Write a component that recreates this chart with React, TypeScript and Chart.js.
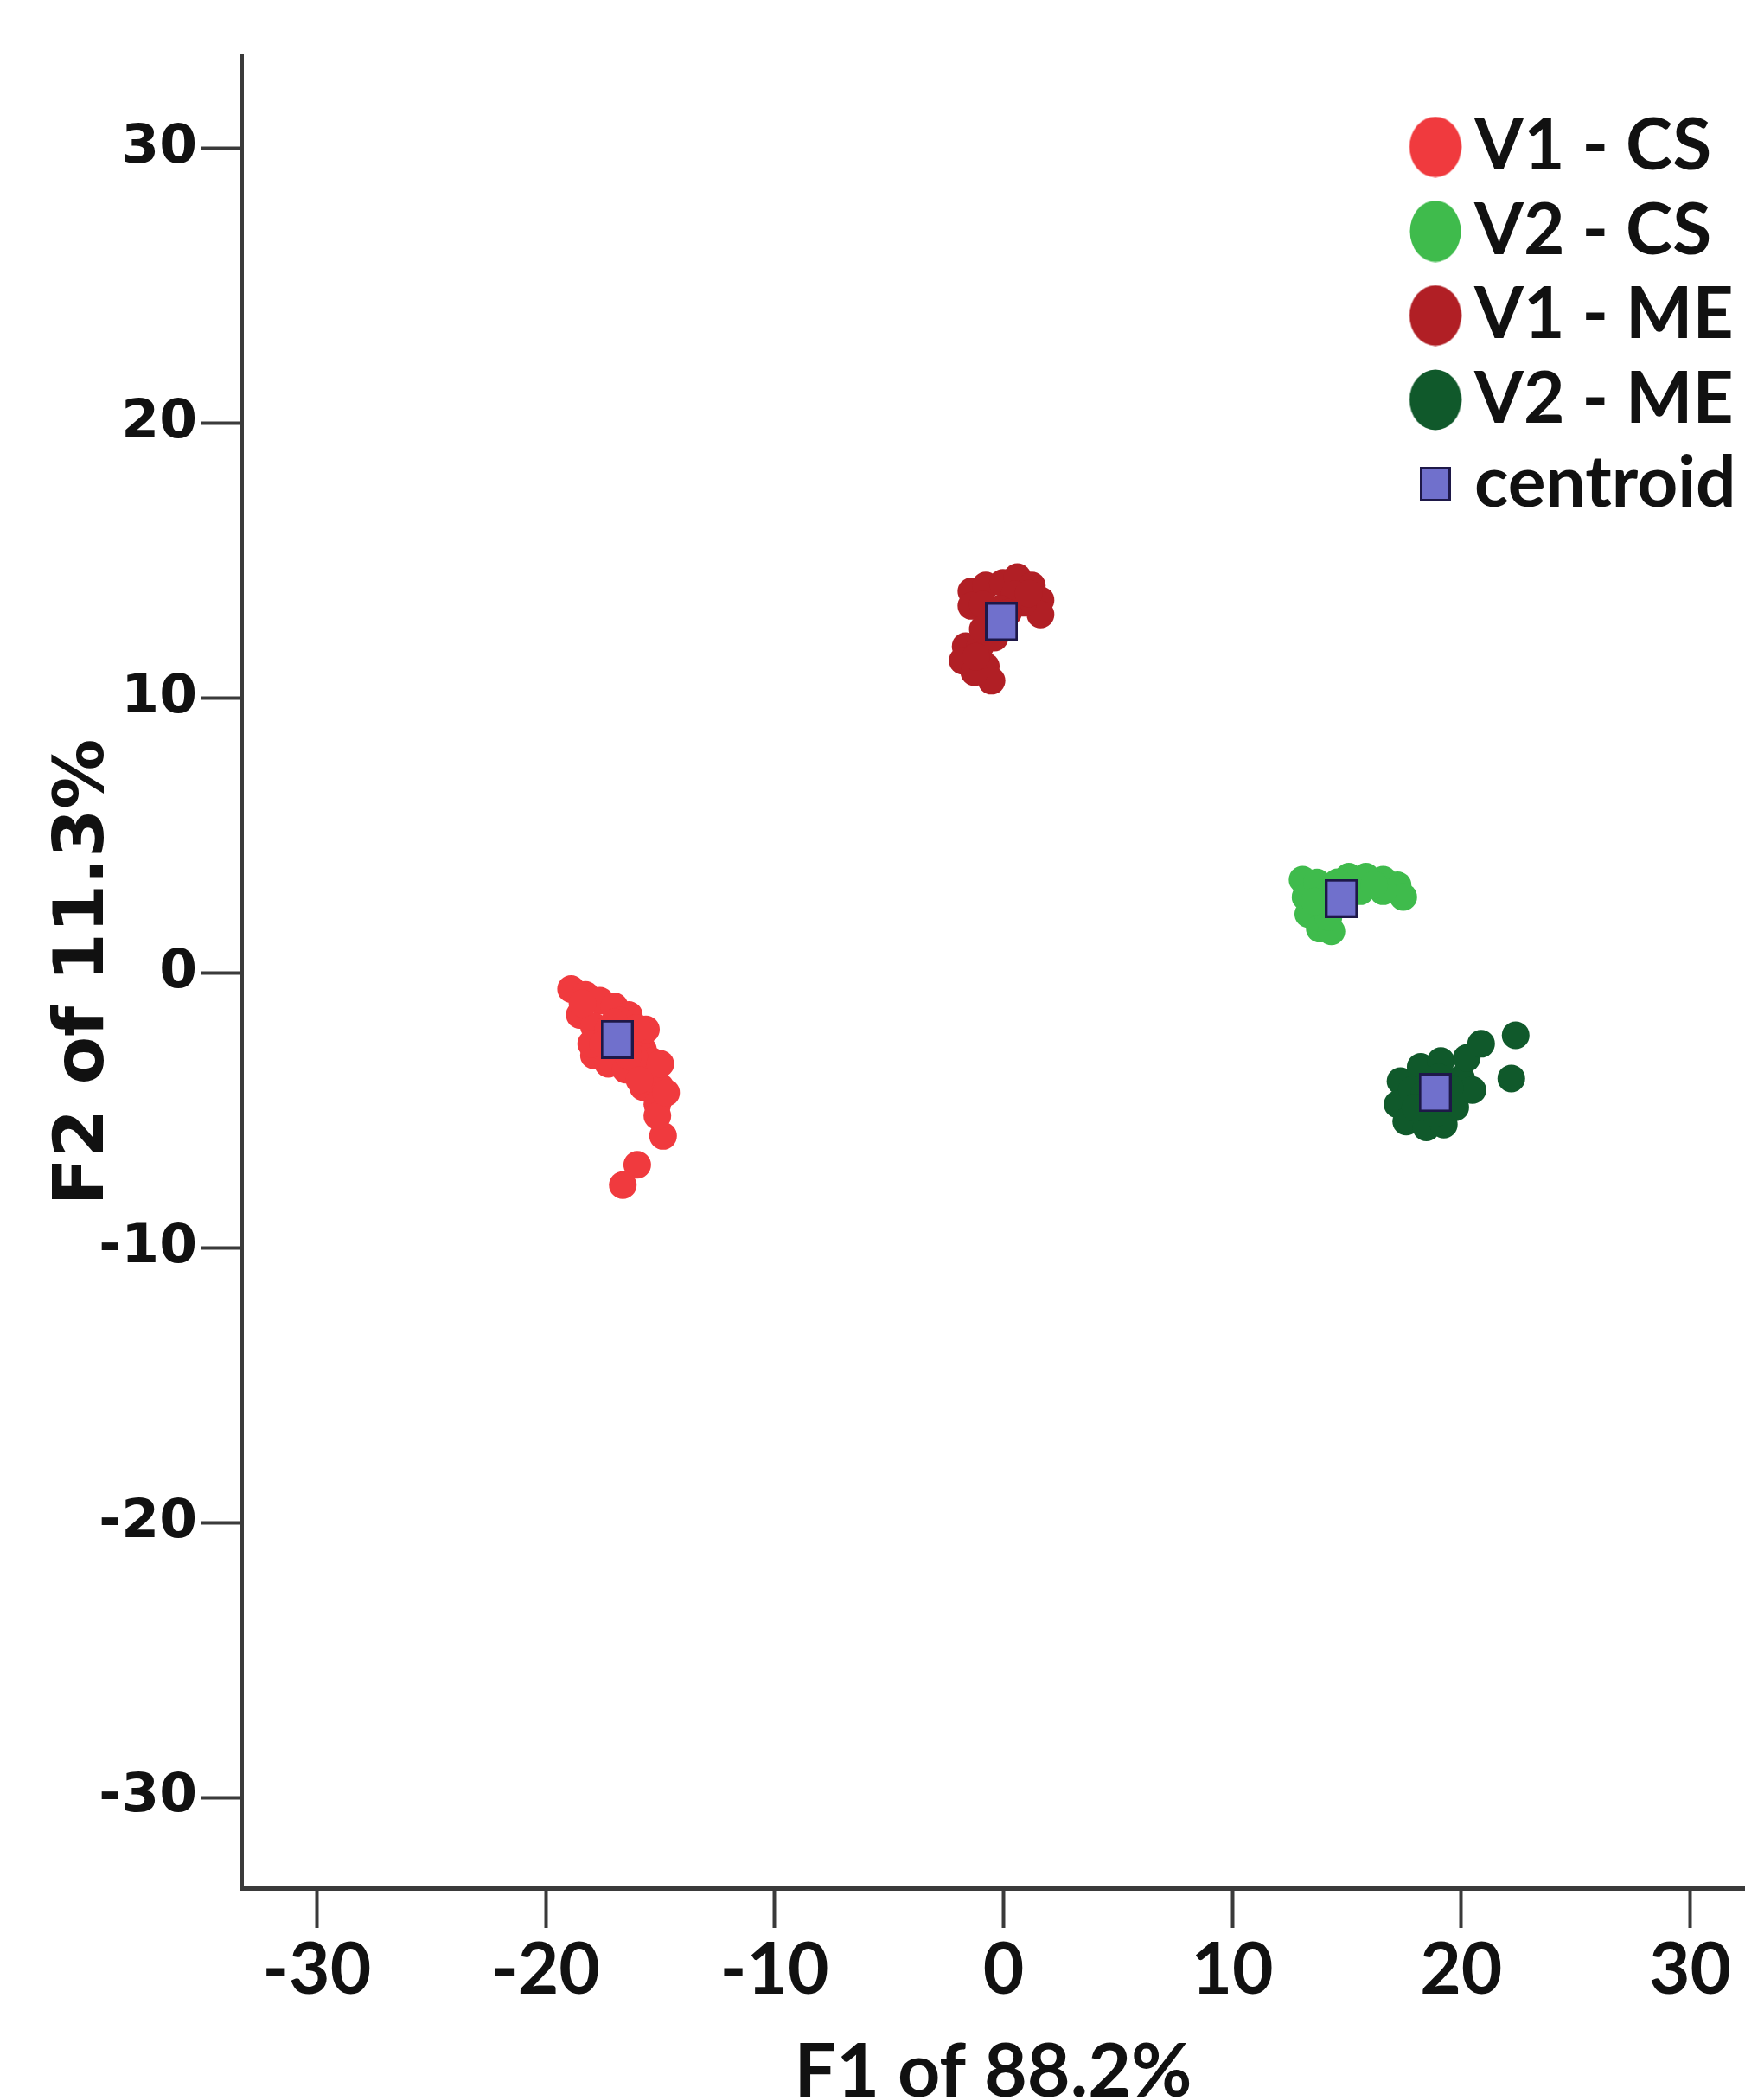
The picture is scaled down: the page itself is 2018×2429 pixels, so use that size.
import React, { useEffect, useRef } from 'react';
import { Chart, registerables } from 'chart.js';

Chart.register(...registerables);

// ---------- data ----------
const seriesNames = ['V1 - CS', 'V2 - CS', 'V1 - ME', 'V2 - ME', 'centroid'];

const v1csX = [-18.89, -18.26, -17.63, -17.0, -16.37, -18.51, -17.89, -17.89, -17.26, -16.5, -15.75, -15.49, -16.0, -14.99, -15.75, -15.12, -14.87, -16.0, -16.63, -17.26, -18.39, -16.75, -18.01, -15.37, -16.12, -15.12, -15.62, -14.99, -14.74, -17.5, -16.4, -15.9, -17.0, -16.0];
const v1csY = [-0.59, -0.8, -1.01, -1.22, -1.53, -1.53, -1.95, -3.0, -3.31, -3.52, -2.79, -3.63, -2.37, -4.15, -4.15, -4.78, -5.93, -6.98, -7.72, -2.06, -1.11, -1.74, -2.58, -3.21, -3.1, -5.2, -2.06, -3.31, -4.36, -2.6, -3.0, -3.9, -1.8, -2.0];

const v2csX = [13.07, 13.2, 13.32, 13.82, 14.33, 14.2, 15.09, 15.84, 16.59, 17.22, 17.47, 15.59, 13.7, 16.59, 13.6, 14.6, 16.2];
const v2csY = [3.39, 2.76, 2.14, 1.61, 1.51, 2.03, 3.5, 3.5, 3.39, 3.19, 2.76, 2.97, 3.29, 2.97, 2.6, 3.3, 3.2];

const v1meX = [-1.4, -0.77, -0.02, 0.61, 1.24, 1.62, 1.62, 0.86, 0.49, -1.4, -0.14, -1.65, -1.78, -1.02, -0.77, -0.52, -1.27, -0.39, 0.2, 1.1, -0.9, -1.2, -0.9];
const v1meY = [13.88, 14.09, 14.19, 14.4, 14.09, 13.56, 13.04, 13.46, 13.77, 13.35, 13.25, 11.88, 11.36, 11.88, 11.15, 10.63, 10.94, 12.2, 13.1, 13.8, 13.4, 11.5, 12.5];

const v2meX = [17.35, 17.22, 17.6, 18.48, 19.24, 19.74, 18.23, 19.11, 20.0, 20.24, 20.87, 22.38, 22.19, 17.85, 20.49, 18.86, 18.4, 19.5, 18.0, 19.0];
const v2meY = [-3.94, -4.78, -5.41, -5.62, -5.52, -4.89, -3.42, -3.21, -3.84, -3.1, -2.58, -2.27, -3.84, -4.26, -4.26, -5.1, -4.4, -4.2, -4.9, -3.8];

const centroidX = [-16.88, 14.77, -0.08, 18.86];
const centroidY = [-2.42, 2.71, 12.78, -4.36];

const xTicks = [-30, -20, -10, 0, 10, 20, 30];
const yTicks = [-30, -20, -10, 0, 10, 20, 30];

const xTitle = 'F1 of 88.2%';
const yTitle = 'F2 of 11.3%';

// ---------- styles ----------
const seriesColors = ['#f03a3e', '#3fbb4c', '#b11f25', '#10592b'];
const centroidFill = '#7070cc';
const centroidBorder = '#1e1848';
const AXIS = '#3a3a3a';
const TEXT = '#111111';
const NARROW = "Lato, 'Liberation Sans', sans-serif";
const WIDE = "'DejaVu Sans', sans-serif";

const W = 2018;
const H = 2429;
const MARKER_SHIFT = 31;

function zip(xs: number[], ys: number[]) {
  return xs.map((x, i) => ({ x, y: ys[i] }));
}

// legend markers are drawn shifted to the right inside a wider transparent canvas
function makeEllipse(color: string, w: number, h: number) {
  const c = document.createElement('canvas');
  c.width = w + 2 * MARKER_SHIFT;
  c.height = h;
  const ctx = c.getContext('2d')!;
  ctx.fillStyle = color;
  ctx.beginPath();
  ctx.ellipse(c.width / 2 + MARKER_SHIFT, h / 2, w / 2 - 0.5, h / 2 - 0.5, 0, 0, Math.PI * 2);
  ctx.fill();
  return c;
}

function makeSquare(w: number, h: number, bw: number, shift: number) {
  const c = document.createElement('canvas');
  c.width = w + 2 * shift;
  c.height = h;
  const ctx = c.getContext('2d')!;
  const x0 = c.width / 2 + shift - w / 2;
  ctx.fillStyle = centroidBorder;
  ctx.fillRect(x0, 0, w, h);
  ctx.fillStyle = centroidFill;
  ctx.fillRect(x0 + bw, bw, w - 2 * bw, h - 2 * bw);
  return c;
}

const legendPlacer = {
  id: 'legendPlacer',
  afterLayout(chart: any) {
    const lg = chart.legend;
    if (!lg) return;
    const area = chart.chartArea;
    lg.left = area.right - 439.5;
    lg.top = area.top + 48.5;
    lg.right = chart.width;
    lg.bottom = area.bottom;
  },
};

export default function App() {
  const ref = useRef<HTMLCanvasElement | null>(null);

  useEffect(() => {
    document.body.style.margin = '0';
    document.body.style.overflow = 'hidden';
    let chart: Chart | null = null;
    let cancelled = false;

    const ready = Promise.all([
      document.fonts.load(`bold 82px ${NARROW}`),
      document.fonts.load(`bold 63px ${WIDE}`),
    ]).catch(() => null);

    ready.then(() => {
      if (cancelled || !ref.current) return;
      const centroidImg = makeSquare(38, 45, 3, 0);
      const legendMarkers: any[] = [
        makeEllipse(seriesColors[0], 61, 71),
        makeEllipse(seriesColors[1], 60, 72),
        makeEllipse(seriesColors[2], 61, 71),
        makeEllipse(seriesColors[3], 61, 71),
        makeSquare(36, 40, 3, MARKER_SHIFT),
      ];

      const seriesData = [zip(v1csX, v1csY), zip(v2csX, v2csY), zip(v1meX, v1meY), zip(v2meX, v2meY)];

      const datasets: any[] = seriesData.map((d, i) => ({
        label: seriesNames[i],
        data: d,
        backgroundColor: seriesColors[i],
        borderWidth: 0,
        pointRadius: 16,
        pointHoverRadius: 16,
        pointStyle: 'circle',
      }));
      datasets.push({
        label: seriesNames[4],
        data: zip(centroidX, centroidY),
        backgroundColor: centroidFill,
        borderColor: centroidBorder,
        borderWidth: 0,
        pointRadius: 20,
        pointHoverRadius: 20,
        pointStyle: centroidImg,
        order: -1,
      });

      chart = new Chart(ref.current, {
        type: 'scatter',
        data: { datasets },
        options: {
          animation: false,
          responsive: false,
          devicePixelRatio: 1,
          events: [],
          layout: { autoPadding: false, padding: { top: 65, left: 0, right: 0, bottom: 0 } },
          scales: {
            x: {
              type: 'linear',
              min: -33.3,
              max: 32.4,
              afterBuildTicks: (s: any) => {
                s.ticks = xTicks.map((v) => ({ value: v }));
              },
              afterFit: (s: any) => {
                s.height = 245;
              },
              border: { display: true, color: AXIS, width: 5 },
              grid: {
                display: true,
                drawOnChartArea: false,
                drawTicks: true,
                tickLength: 46,
                tickWidth: 4,
                tickColor: AXIS,
              },
              ticks: {
                color: TEXT,
                padding: 0,
                maxRotation: 0,
                autoSkip: false,
                font: { family: NARROW, size: 82, weight: 'bold', lineHeight: 1.2 },
                callback: (v: any) => String(v),
              },
              title: {
                display: true,
                text: xTitle,
                color: TEXT,
                padding: 0,
                font: { family: NARROW, size: 86, weight: 'bold', lineHeight: 0.74 },
              },
            },
            y: {
              type: 'linear',
              min: -33.3,
              max: 33.35,
              afterBuildTicks: (s: any) => {
                s.ticks = yTicks.map((v) => ({ value: v }));
              },
              afterFit: (s: any) => {
                s.width = 279;
              },
              border: { display: true, color: AXIS, width: 5 },
              grid: {
                display: true,
                drawOnChartArea: false,
                drawTicks: true,
                tickLength: 46,
                tickWidth: 4,
                tickColor: AXIS,
              },
              ticks: {
                color: TEXT,
                padding: 5,
                autoSkip: false,
                font: { family: WIDE, size: 63, weight: 'bold', lineHeight: 1.2 },
                callback: (v: any) => String(v),
              },
              title: {
                display: true,
                text: yTitle,
                color: TEXT,
                padding: { top: 49, bottom: 0 },
                font: { family: WIDE, size: 81, weight: 'bold', lineHeight: 1.2 },
              },
            },
          },
          plugins: {
            tooltip: { enabled: false },
            legend: {
              display: true,
              position: 'chartArea' as any,
              align: 'start',
              labels: {
                usePointStyle: true,
                boxWidth: 70,
                boxHeight: 40,
                padding: 15.5,
                color: TEXT,
                font: { family: NARROW, size: 82, weight: 'bold' },
                generateLabels: (c: any) =>
                  c.data.datasets.map((ds: any, i: number) => ({
                    text: ds.label,
                    pointStyle: legendMarkers[i],
                    fillStyle: 'rgba(0,0,0,0)',
                    strokeStyle: 'rgba(0,0,0,0)',
                    lineWidth: 0,
                    hidden: false,
                    datasetIndex: i,
                    fontColor: TEXT,
                  })),
              },
            },
          },
        } as any,
        plugins: [legendPlacer],
      });
    });

    return () => {
      cancelled = true;
      if (chart) chart.destroy();
    };
  }, []);

  return (
    <div style={{ width: W, height: H, background: '#ffffff', position: 'relative' }}>
      <canvas ref={ref} width={W} height={H} style={{ width: W, height: H, display: 'block' }} />
    </div>
  );
}
